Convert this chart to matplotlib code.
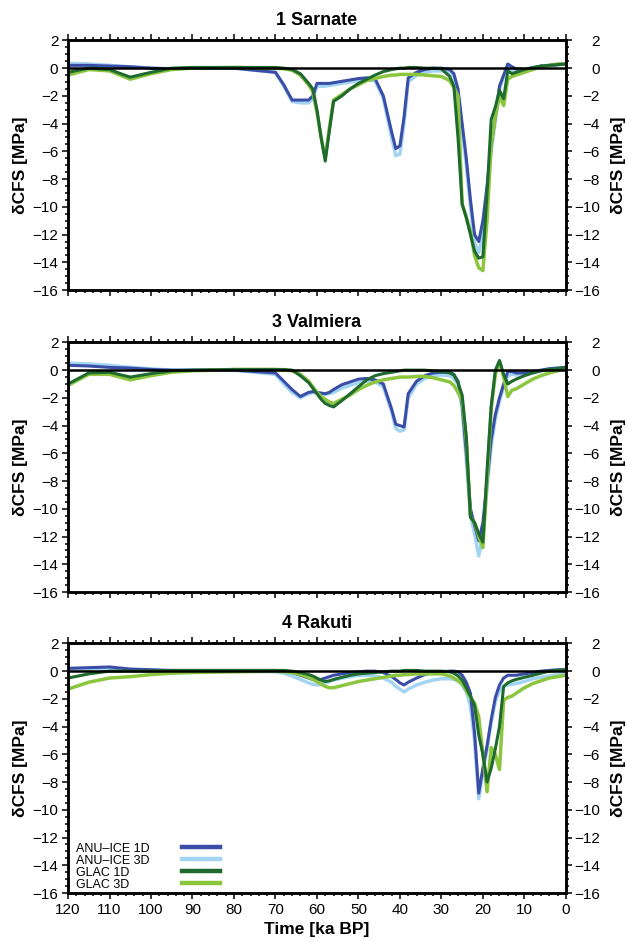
import numpy as np
import matplotlib
matplotlib.use('Agg')
import matplotlib.pyplot as plt
from matplotlib.ticker import MultipleLocator

plt.rcParams['font.family'] = ['Liberation Sans', 'DejaVu Sans']

# common time grid (ka BP)
time_ka = [120, 115, 110, 105, 100, 95, 90, 80, 70, 68, 66, 64, 62, 61, 60, 59, 58, 57, 56,
           54, 52, 50, 48, 46, 44, 42, 41, 40, 39, 38, 36, 34, 32, 30, 28, 27, 26, 25, 24,
           23, 22, 21, 20, 19, 18, 17, 16, 15, 14, 13, 12, 10, 8, 6, 4, 2, 0]

# 1 Sarnate
sar_anu1d = [0.2, 0.2, 0.15, 0.1, 0.0, -0.05, 0.0, 0.0, -0.3, -1.2, -2.3, -2.3, -2.3, -2.0, -1.1, -1.1, -1.1,
             -1.1, -1.05, -0.95, -0.85, -0.75, -0.7, -0.75, -2.0, -4.6, -5.8, -5.6, -3.5, -0.7, -0.3, -0.1,
             0.0, 0.0, -0.1, -0.4, -1.5, -4.0, -6.5, -9.5, -12.0, -12.5, -11.0, -8.5, -5.6, -3.5, -1.3,
             -0.5, 0.3, 0.1, -0.05, -0.1, 0.0, 0.15, 0.2, 0.25, 0.3]
sar_anu3d = [0.35, 0.3, 0.2, 0.1, 0.0, -0.05, 0.0, 0.0, -0.3, -1.3, -2.4, -2.5, -2.5, -2.2, -1.3, -1.3, -1.3,
             -1.25, -1.2, -1.1, -1.0, -0.9, -0.85, -0.9, -2.2, -5.0, -6.3, -6.2, -4.0, -1.0, -0.5, -0.3,
             -0.2, -0.2, -0.3, -0.6, -1.8, -4.5, -7.0, -10.0, -12.6, -13.3, -12.0, -9.0, -6.0, -3.8, -1.5,
             -0.6, 0.0, -0.2, -0.3, -0.2, 0.0, 0.15, 0.2, 0.25, 0.3]
sar_glac1d = [-0.3, 0.0, -0.1, -0.65, -0.3, 0.0, 0.05, 0.05, 0.05, 0.0, -0.1, -0.4, -1.1, -1.5, -3.0, -5.0,
              -6.7, -4.5, -2.4, -2.0, -1.5, -1.1, -0.8, -0.5, -0.25, -0.1, -0.05, 0.0, 0.0, 0.05, 0.05, 0.0,
              0.0, -0.05, -0.6, -1.3, -5.0, -9.8, -10.8, -12.0, -13.2, -13.7, -13.6, -9.0, -3.7, -2.8, -1.6,
              -2.2, -0.2, -0.4, -0.3, -0.1, 0.05, 0.15, 0.2, 0.25, 0.3]
sar_glac3d = [-0.5, -0.1, -0.2, -0.8, -0.4, -0.1, 0.0, 0.05, 0.0, -0.05, -0.15, -0.5, -1.2, -1.7, -3.2, -5.0,
              -6.5, -4.3, -2.3, -1.9, -1.5, -1.2, -0.9, -0.75, -0.6, -0.5, -0.5, -0.45, -0.45, -0.45, -0.45,
              -0.5, -0.55, -0.6, -0.9, -1.4, -2.0, -9.8, -10.7, -11.8, -13.5, -14.4, -14.6, -11.0, -5.5, -3.5,
              -2.0, -2.7, -0.8, -0.6, -0.5, -0.3, -0.1, 0.1, 0.2, 0.3, 0.3]

# 3 Valmiera
val_anu1d = [0.35, 0.3, 0.2, 0.15, 0.05, 0.0, 0.0, 0.0, -0.2, -0.8, -1.4, -1.9, -1.6, -1.55, -1.6, -1.65, -1.7,
             -1.6, -1.4, -1.05, -0.85, -0.65, -0.6, -0.7, -1.0, -2.8, -3.9, -4.0, -4.1, -1.7, -0.8, -0.4,
             -0.2, -0.15, -0.15, -0.3, -0.8, -2.5, -6.0, -10.0, -11.2, -12.3, -11.0, -8.0, -5.0, -3.2, -2.0,
             -1.0, -0.1, -0.1, -0.2, -0.2, -0.1, 0.0, 0.1, 0.15, 0.2]
val_anu3d = [0.5, 0.45, 0.35, 0.2, 0.1, 0.0, 0.0, 0.0, -0.3, -1.0, -1.6, -2.0, -1.7, -1.6, -1.65, -1.7, -1.75,
             -1.7, -1.6, -1.3, -1.1, -0.9, -0.8, -0.85, -1.2, -3.0, -4.2, -4.4, -4.3, -2.0, -1.0, -0.6,
             -0.4, -0.35, -0.4, -0.6, -1.0, -2.8, -6.5, -10.5, -11.8, -13.4, -11.8, -8.5, -5.5, -3.5, -2.2,
             -1.2, -0.4, -0.3, -0.35, -0.3, -0.2, -0.05, 0.1, 0.15, 0.2]
val_glac1d = [-1.0, -0.2, -0.15, -0.5, -0.25, -0.05, 0.0, 0.05, 0.05, 0.05, 0.0, -0.4, -0.9, -1.3, -1.7, -2.1,
              -2.4, -2.55, -2.65, -2.2, -1.7, -1.2, -0.7, -0.4, -0.25, -0.15, -0.1, -0.05, 0.0, 0.0, 0.0, 0.0,
              -0.05, -0.1, -0.2, -0.35, -0.9, -1.8, -4.8, -10.6, -11.0, -11.8, -12.4, -7.2, -2.6, 0.0, 0.7,
              -0.3, -1.0, -0.8, -0.65, -0.4, -0.2, -0.05, 0.05, 0.1, 0.2]
val_glac3d = [-1.1, -0.3, -0.3, -0.7, -0.4, -0.15, -0.05, 0.05, 0.05, 0.0, -0.05, -0.3, -0.8, -1.2, -1.6, -1.9,
              -2.1, -2.3, -2.4, -2.1, -1.8, -1.4, -1.1, -0.85, -0.7, -0.6, -0.55, -0.5, -0.5, -0.5, -0.45,
              -0.45, -0.55, -0.7, -0.85, -1.1, -1.6, -2.2, -5.0, -10.6, -11.0, -12.0, -12.8, -8.0, -2.8, -0.3,
              0.6, -0.5, -1.9, -1.45, -1.35, -1.0, -0.65, -0.4, -0.2, -0.05, 0.15]

# 4 Rakuti
rak_anu1d = [0.2, 0.25, 0.3, 0.15, 0.1, 0.05, 0.05, 0.05, 0.05, 0.0, -0.1, -0.3, -0.5, -0.6, -0.65, -0.6, -0.5,
             -0.4, -0.3, -0.2, -0.1, -0.05, 0.0, 0.0, -0.1, -0.4, -0.6, -0.85, -1.0, -0.8, -0.5, -0.25,
             -0.1, -0.05, 0.0, 0.0, -0.05, -0.3, -0.8, -1.6, -4.5, -8.8, -7.0, -5.4, -3.5, -1.9, -1.0,
             -0.5, -0.3, -0.3, -0.3, -0.2, -0.1, 0.0, 0.05, 0.1, 0.1]
rak_anu3d = [0.15, 0.15, 0.1, 0.1, 0.05, 0.0, 0.0, 0.0, -0.05, -0.15, -0.35, -0.6, -0.85, -0.95, -1.0, -0.95,
             -0.85, -0.75, -0.65, -0.5, -0.4, -0.3, -0.3, -0.35, -0.5, -0.8, -1.1, -1.3, -1.5, -1.3, -1.0,
             -0.8, -0.65, -0.55, -0.55, -0.6, -0.7, -1.0, -1.5, -2.5, -5.0, -9.2, -7.3, -5.6, -3.7, -2.2,
             -1.4, -1.1, -1.0, -0.95, -0.9, -0.75, -0.55, -0.45, -0.35, -0.25, -0.2]
rak_glac1d = [-0.5, -0.2, 0.0, 0.0, 0.0, 0.05, 0.05, 0.05, 0.05, 0.05, 0.0, -0.1, -0.25, -0.35, -0.5, -0.65,
              -0.75, -0.7, -0.6, -0.45, -0.3, -0.2, -0.15, -0.1, -0.05, 0.0, 0.0, 0.0, 0.05, 0.05, 0.05, 0.0,
              0.0, 0.0, -0.05, -0.15, -0.35, -0.65, -1.2, -1.8, -2.5, -4.6, -6.0, -8.0, -7.0, -5.6, -4.0,
              -1.1, -0.85, -0.7, -0.6, -0.45, -0.3, -0.15, 0.0, 0.05, 0.1]
rak_glac3d = [-1.3, -0.8, -0.5, -0.4, -0.25, -0.15, -0.1, -0.05, 0.0, -0.05, -0.1, -0.25, -0.45, -0.6, -0.75,
              -0.95, -1.1, -1.2, -1.2, -1.05, -0.9, -0.75, -0.65, -0.55, -0.45, -0.35, -0.3, -0.3, -0.25,
              -0.25, -0.2, -0.2, -0.2, -0.2, -0.35, -0.5, -0.7, -0.9, -1.4, -1.9, -2.3, -3.3, -6.0, -8.7,
              -5.5, -6.0, -7.1, -2.1, -1.9, -1.8, -1.6, -1.2, -0.9, -0.7, -0.5, -0.4, -0.3]

series_names = ['ANU\u2013ICE 1D', 'ANU\u2013ICE 3D', 'GLAC 1D', 'GLAC 3D']
series_colors = ['#3a4ea8', '#a3d5f2', '#1f6a2e', '#8cc63f']

panels = [
    ('1 Sarnate', [sar_anu1d, sar_anu3d, sar_glac1d, sar_glac3d]),
    ('3 Valmiera', [val_anu1d, val_anu3d, val_glac1d, val_glac3d]),
    ('4 Rakuti', [rak_anu1d, rak_anu3d, rak_glac1d, rak_glac3d]),
]
bottoms = [0.6921, 0.3715, 0.052]
tick_fs = 11

fig = plt.figure(figsize=(6.27, 9.42), dpi=100)

for (title, data), bottom in zip(panels, bottoms):
    ax = fig.add_axes([0.1085, bottom, 0.794, 0.265])
    # light (3D) lines first, dark (1D) lines on top
    lines = {}
    for idx in [1, 0, 3, 2]:
        ln, = ax.plot(time_ka, data[idx], color=series_colors[idx],
                      lw=2.5 if idx in (1, 3) else 2.2, solid_joinstyle='round')
        lines[idx] = ln
    ax.axhline(0, color='black', lw=1.8, zorder=5)

    ax.set_xlim(120, 0)
    ax.set_ylim(-16, 2)
    ax.set_xticks(np.arange(0, 121, 10))
    ax.set_yticks(np.arange(-16, 3, 2))
    ax.xaxis.set_minor_locator(MultipleLocator(2))
    ax.yaxis.set_minor_locator(MultipleLocator(0.5))
    ax.tick_params(which='both', direction='out', top=True, labelsize=tick_fs, width=1.1, pad=3)
    ax.tick_params(which='major', length=4)
    ax.tick_params(which='minor', length=2)
    for sp in ax.spines.values():
        sp.set_linewidth(1.8)
    ax.set_title(title, fontsize=13, fontweight='bold', pad=11)
    ax.set_ylabel('\u03b4CFS [MPa]', fontsize=12.5, fontweight='bold', labelpad=3)

    twin = ax.twinx()
    twin.set_ylim(-16, 2)
    twin.set_yticks(np.arange(-16, 3, 2))
    twin.yaxis.set_minor_locator(MultipleLocator(0.5))
    twin.tick_params(which='both', direction='out', labelsize=tick_fs, width=1.1, pad=20.5)
    twin.tick_params(which='major', length=4)
    twin.tick_params(which='minor', length=2)
    for lab in twin.get_yticklabels():
        lab.set_horizontalalignment('right')
    twin.set_ylabel('\u03b4CFS [MPa]', fontsize=12.5, fontweight='bold', labelpad=8)
    for sp in twin.spines.values():
        sp.set_linewidth(1.8)

    if title == '4 Rakuti':
        ax.set_xlabel('Time [ka BP]', fontsize=12.5, fontweight='bold', labelpad=4)
        handles = [lines[i] for i in range(4)]
        # text column (left aligned) and line column as two legends
        leg_txt = ax.legend(handles, series_names, loc='lower left', frameon=False,
                            fontsize=9, labelspacing=0.0, handlelength=0, handletextpad=0,
                            borderpad=0, borderaxespad=0, bbox_to_anchor=(0.016, 0.01))
        for h in leg_txt.legend_handles:
            h.set_visible(False)
        ax.add_artist(leg_txt)
        leg_ln = ax.legend(handles, [''] * 4, loc='lower left', frameon=False,
                           fontsize=9, labelspacing=0.0, handlelength=3.0, handletextpad=0,
                           borderpad=0, borderaxespad=0, bbox_to_anchor=(0.229, 0.01))
        for lh in leg_ln.get_lines():
            lh.set_linewidth(3.2)
    else:
        ax.tick_params(labelbottom=False)

fig.savefig('out.png', dpi=100)
